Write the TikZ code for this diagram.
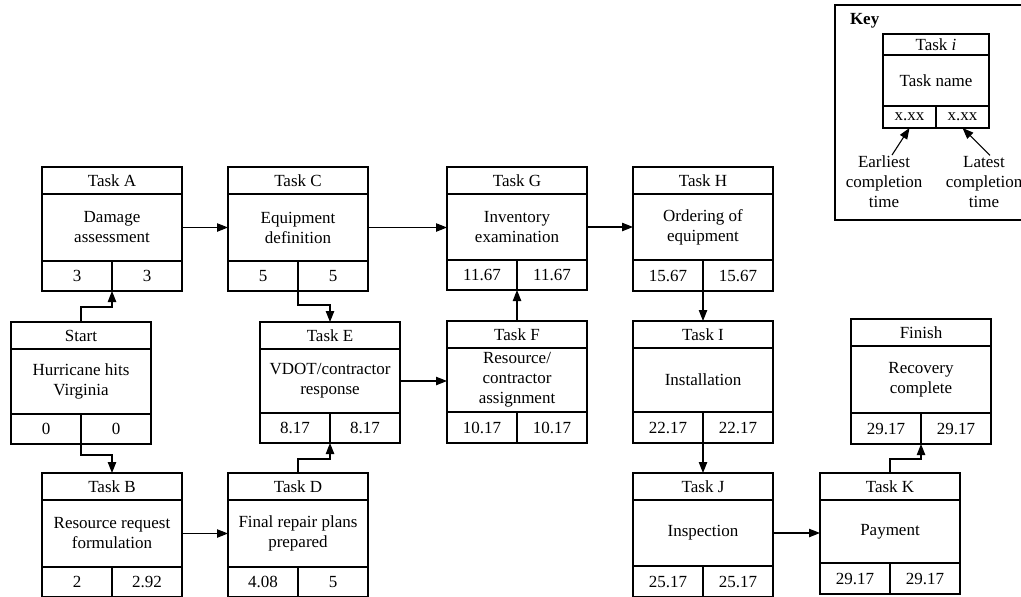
\documentclass[tikz,border=0pt]{standalone}
\usepackage{fontspec}
\setmainfont{Liberation Serif}
\usetikzlibrary{arrows.meta,fit,calc}

\tikzset{
  base/.style={font=\fontsize{8.5}{10}\selectfont, inner sep=0pt, outer sep=0pt, align=center, text=black},
  cell/.style={base, draw, line width=0.65pt},
  arr/.style={line width=0.55pt, -{Triangle[length=5.5pt,width=4.2pt]}},
}

% Activity box: #1 name, #2 x, #3 top y, #4 body height, #5 footer height,
% #6 title, #7 description, #8 earliest, #9 latest completion time
\newcommand\taskbox[9]{%
  \node[cell, minimum width=\tbw, minimum height=\tbh, anchor=north west] (#1-h) at (#2,#3) {#6};
  \node[cell, minimum width=\tbw, minimum height=#4, anchor=north] (#1-b) at (#1-h.south) {#7};
  \node[cell, minimum width=\tbhalf, minimum height=#5, anchor=north west] (#1-e) at (#1-b.south west) {#8};
  \node[cell, minimum width=\tbhalf, minimum height=#5, anchor=north east] (#1-l) at (#1-b.south east) {#9};
  \node[fit=(#1-h)(#1-e)(#1-l), inner sep=0pt, outer sep=0pt] (#1) {};
}

\begin{document}
\begin{tikzpicture}[x=0.5pt, y=-0.5pt]
\useasboundingbox (0,0) rectangle (1021,596);
\clip (0,0) rectangle (1021,596);

\def\tbw{70pt}\def\tbhalf{35pt}\def\tbh{13.5pt}

% top row
\taskbox{A}{42}{167}{33.5pt}{15pt}{Task A}{Damage\\assessment}{3}{3}
\taskbox{C}{228}{167}{33.5pt}{15pt}{Task C}{Equipment\\definition}{5}{5}
\taskbox{G}{447}{167}{33pt}{15pt}{Task G}{Inventory\\examination}{11.67}{11.67}
\taskbox{H}{633}{167}{33pt}{15.5pt}{Task H}{Ordering of\\equipment}{15.67}{15.67}

% middle row
\taskbox{st}{11}{322}{32.5pt}{15pt}{Start}{Hurricane hits\\Virginia}{0}{0}
\taskbox{E}{260}{322}{32pt}{15pt}{Task E}{VDOT/contractor\\response}{8.17}{8.17}
\taskbox{F}{447}{321}{32pt}{15.5pt}{Task F}{Resource/\\contractor\\assignment}{10.17}{10.17}
\taskbox{I}{633}{321}{32pt}{15.5pt}{Task I}{Installation}{22.17}{22.17}
\taskbox{fin}{851}{319}{33.5pt}{15.5pt}{Finish}{Recovery\\complete}{29.17}{29.17}

% bottom row
\taskbox{B}{42}{473}{33.5pt}{15pt}{Task B}{Resource request\\formulation}{2}{2.92}
\taskbox{D}{228}{473}{33.5pt}{15pt}{Task D}{Final repair plans\\prepared}{4.08}{5}
\taskbox{J}{633}{473}{33pt}{15.5pt}{Task J}{Inspection}{25.17}{25.17}
\taskbox{K}{820}{473}{31.5pt}{15.5pt}{Task K}{Payment}{29.17}{29.17}

% precedence links
\draw[arr] (st.north) -- ++(0,-15) -| (A.south);
\draw[arr] (st.south) -- ++(0,11) -| (B.north);
\draw[arr] (A-b.east) -- (A-b.east -| C-b.west);
\draw[arr] (B-b.east) -- (B-b.east -| D-b.west);
\draw[arr] (C.south) -- ++(0,14) -| (E.north);
\draw[arr] (D.north) -- ++(0,-14) -| (E.south);
\draw[arr] (C-b.east) -- (C-b.east -| G-b.west);
\draw[arr] (E-b.east) -- (E-b.east -| F-b.west);
\draw[arr] (F.north) -- (G.south);
\draw[arr] (G-b.east) -- (G-b.east -| H-b.west);
\draw[arr] (H.south) -- (I.north);
\draw[arr] (I.south) -- (J.north);
\draw[arr] (J-b.east) -- (J-b.east -| K-b.west);
\draw[arr] (K.north) -- ++(0,-14) -| (fin.south);

% legend (its right side runs past the page edge)
\node[draw, line width=0.8pt, minimum width=95pt, minimum height=107.5pt, anchor=north west, outer sep=0pt] (key) at (835,5) {};
\node[base, anchor=north west] (keylbl) at (850,13) {\textbf{Key}};
\def\tbw{53pt}\def\tbhalf{26.5pt}\def\tbh{10.5pt}
\taskbox{kb}{883}{34}{25.5pt}{11pt}{Task \textit{i}}{Task name}{x.xx}{x.xx}
\node[base] (kE) at (884,182) {Earliest\\completion\\time};
\node[base] (kL) at (984,182) {Latest\\completion\\time};
\draw[arr] ([xshift=4pt,yshift=0.5pt]kE.north) -- (kb-e.south);
\draw[arr] ([xshift=3pt,yshift=0.5pt]kL.north) -- (kb-l.south);
\end{tikzpicture}
\end{document}
